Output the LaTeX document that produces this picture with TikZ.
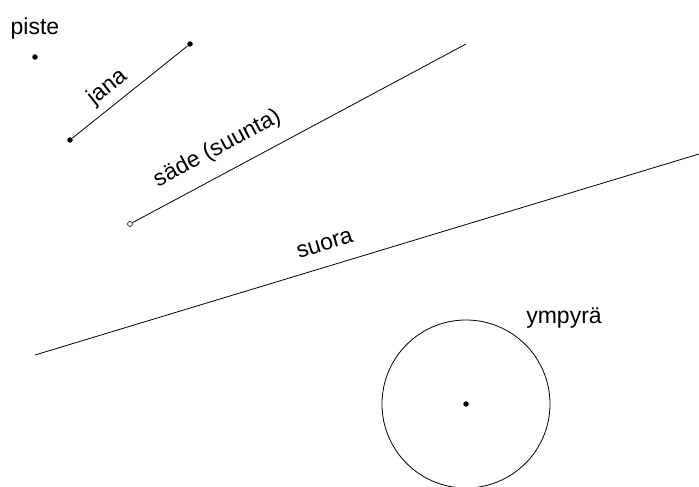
\documentclass[tikz,border=0pt]{standalone}
\usepackage{fontspec}
\setmainfont{Liberation Sans}
\usetikzlibrary{positioning}
\begin{document}
\begin{tikzpicture}[x=1pt,y=-1pt,line width=0.8pt,font=\fontsize{23}{27}\selectfont]
    \tikzstyle{dot}=[circle,fill=black,minimum size=5.5pt,inner sep=0pt]
    \tikzstyle{open dot}=[circle,draw,fill=white,minimum size=5pt,inner sep=0pt,line width=0.6pt]
    \tikzstyle{tag}=[sloped,inner sep=3pt]

    \useasboundingbox (0,0) rectangle (699,487);

    % piste
    \node[dot] (P) at (35,57) {};
    \node[above=11pt of P] (P-name) {piste};

    % jana
    \foreach \n/\x/\y in {1/70/140,2/190/44}
    \node[dot] (J-\n) at (\x,\y) {};
    \draw (J-1) -- (J-2) node[tag,pos=0.4,above=3.5pt] (J-name) {jana};

    % säde
    \node[open dot] (S-0) at (130,224) {};
    \coordinate (S-1) at (466,44);
    \draw (S-0) -- (S-1) node[tag,pos=0.29,above=11pt] (S-name) {säde (suunta)};

    % suora
    \coordinate (L-1) at (35,355);
    \coordinate (L-2) at (699,154);
    \draw (L-1) -- (L-2) node[tag,pos=0.446,above=12pt] (L-name) {suora};

    % ympyrä
    \node[circle,draw,minimum size=168pt,inner sep=0pt] (C) at (466,404) {};
    \node[dot] (C-0) at (C) {};
    \node (C-name) at (564,318) {ympyrä};
\end{tikzpicture}
\end{document}
